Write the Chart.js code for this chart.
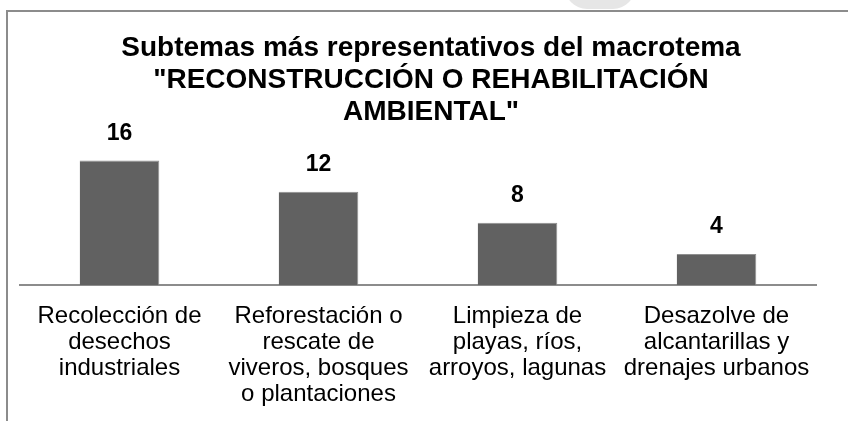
<!DOCTYPE html>
<html>
<head>
<meta charset="utf-8">
<script src="https://cdn.jsdelivr.net/npm/chart.js@4/dist/chart.umd.min.js"></script>
<style>
  html, body { margin: 0; padding: 0; background: #fff; }
  #wrap { position: relative; width: 848px; height: 421px; overflow: hidden; }
  #frame { position: absolute; left: 6px; top: 10px; width: 860px; height: 430px;
           border-top: 2px solid #8c8c8c; border-left: 2px solid #8c8c8c; box-sizing: border-box; }
  #blob { position: absolute; left: 565px; top: -20px; width: 70px; height: 29px;
          background: #e6e6e6; border-radius: 0 0 22px 22px; }
  canvas { position: absolute; left: 0; top: 0; }
</style>
</head>
<body>
<div id="wrap">
  <div id="blob"></div>
  <div id="frame"></div>
  <canvas id="chart" width="848" height="421"></canvas>
</div>
<script>
const titleLines = [
  'Subtemas más representativos del macrotema',
  '"RECONSTRUCCIÓN O REHABILITACIÓN',
  'AMBIENTAL"'
];
const categories = [
  ['Recolección de', 'desechos', 'industriales'],
  ['Reforestación o', 'rescate de', 'viveros, bosques', 'o plantaciones'],
  ['Limpieza de', 'playas, ríos,', 'arroyos, lagunas'],
  ['Desazolve de', 'alcantarillas y', 'drenajes urbanos']
];
const values = [16, 12, 8, 4];

const fontFamily = 'Arial, "Liberation Sans", Helvetica, sans-serif';

// title is a bit right of the plot centre in the original, so draw it by hand
const titleText = {
  id: 'titleText',
  afterDraw(chart) {
    const ctx = chart.ctx;
    ctx.save();
    ctx.font = 'bold 28px ' + fontFamily;
    ctx.fillStyle = '#000';
    ctx.textAlign = 'center';
    ctx.textBaseline = 'middle';
    titleLines.forEach((line, i) => ctx.fillText(line, 431, 48 + i * 32));
    ctx.restore();
  }
};

// value labels above each bar
const valueLabels = {
  id: 'valueLabels',
  afterDatasetsDraw(chart) {
    const ctx = chart.ctx;
    const meta = chart.getDatasetMeta(0);
    ctx.save();
    ctx.font = 'bold 23px ' + fontFamily;
    ctx.fillStyle = '#000';
    ctx.textAlign = 'center';
    ctx.textBaseline = 'middle';
    meta.data.forEach((bar, i) => {
      ctx.fillText(String(values[i]), bar.x, bar.y - 27);
    });
    ctx.restore();
  }
};

new Chart(document.getElementById('chart'), {
  type: 'bar',
  data: {
    labels: categories,
    datasets: [{
      data: values,
      backgroundColor: '#616161',
      borderColor: '#8f8f8f',
      borderWidth: { top: 1, right: 1, left: 0, bottom: 0 },
      borderSkipped: false,
      barPercentage: 0.4,
      categoryPercentage: 1.0
    }]
  },
  options: {
    responsive: false,
    animation: false,
    layout: { padding: { left: 20, right: 32, top: 145, bottom: -4 } },
    plugins: {
      legend: { display: false },
      tooltip: { enabled: false },
      title: { display: false }
    },
    scales: {
      x: {
        grid: { display: false, drawTicks: false },
        border: { display: true, color: '#8c8c8c', width: 2 },
        ticks: {
          color: '#000',
          maxRotation: 0,
          autoSkip: false,
          padding: 18,
          font: { family: fontFamily, size: 24, lineHeight: '26px' }
        }
      },
      y: {
        display: false,
        min: 0,
        max: 18
      }
    }
  },
  plugins: [valueLabels, titleText]
});
</script>
</body>
</html>
